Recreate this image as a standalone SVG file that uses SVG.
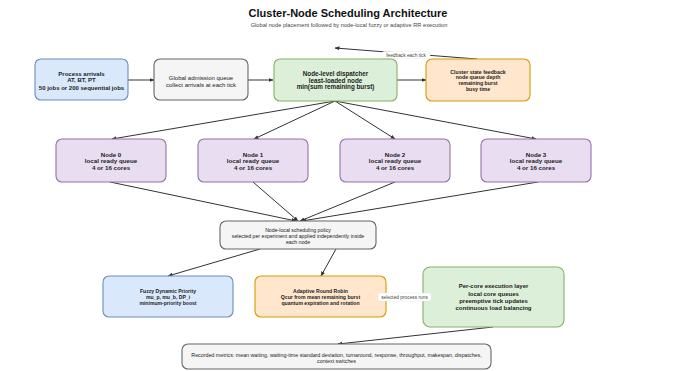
<svg xmlns="http://www.w3.org/2000/svg" width="692" height="371" viewBox="0 0 692 371">
  <defs>
    <marker id="arrow" viewBox="0 0 10 10" refX="9" refY="5" markerWidth="5" markerHeight="5" orient="auto-start-reverse" markerUnits="userSpaceOnUse">
      <path d="M0,1 L10,5 L0,9 Z" fill="#333333"/>
    </marker>
    <style>
      text { font-family: "Liberation Sans", Arial, sans-serif; fill: #222222; text-anchor: middle; }
      .title { font-size: 11px; font-weight: bold; fill: #111111; }
      .sub { font-size: 5.7px; fill: #444444; }
      .box { stroke-width: 1.1; }
      .blue { fill: #dae8fc; stroke: #6c8ebf; }
      .gray { fill: #f5f5f5; stroke: #666666; }
      .green { fill: #dcefd8; stroke: #82b366; }
      .orange { fill: #ffe6cc; stroke: #d79b00; }
      .purple { fill: #e8ddf1; stroke: #9673a6; }
      .b { font-weight: bold; }
      .edge { fill: none; stroke: #333333; stroke-width: 1; marker-end: url(#arrow); }
      .lbl { font-size: 4.8px; fill: #444444; }
      .lblbg { fill: #ffffff; stroke: #e6e6e6; stroke-width: 0.5; }
    </style>
  </defs>

  <rect width="692" height="371" fill="#ffffff"/>

  <text class="title" x="348" y="17">Cluster-Node Scheduling Architecture</text>
  <text class="sub" x="349" y="27">Global node placement followed by node-local fuzzy or adaptive RR execution</text>

  <!-- connectors -->
  <g id="connectors">
    <line class="edge" x1="128" y1="80" x2="154" y2="80"/>
    <line class="edge" x1="248" y1="80" x2="273" y2="80"/>
    <line class="edge" x1="397" y1="80" x2="426" y2="80"/>
    <line class="edge" x1="477" y1="59" x2="335" y2="48"/>

    <line class="edge" x1="335" y1="101" x2="112" y2="139"/>
    <line class="edge" x1="335" y1="101" x2="254" y2="139"/>
    <line class="edge" x1="335" y1="101" x2="395" y2="139"/>
    <line class="edge" x1="335" y1="101" x2="536" y2="139"/>

    <line class="edge" x1="110" y1="182" x2="296" y2="221"/>
    <line class="edge" x1="253" y1="182" x2="298" y2="221"/>
    <line class="edge" x1="395" y1="182" x2="300" y2="221"/>
    <line class="edge" x1="538" y1="182" x2="302" y2="221"/>

    <line class="edge" x1="260" y1="249" x2="168" y2="276"/>
    <line class="edge" x1="336" y1="249" x2="321" y2="276"/>
    <line class="edge" x1="386" y1="297" x2="423" y2="297"/>
    <line class="edge" x1="493" y1="327" x2="338" y2="344"/>

    <rect class="lblbg" x="382" y="51.5" width="48" height="7" rx="2"/>
    <text class="lbl" x="406" y="56.7">feedback each tick</text>
  </g>

  <g id="arrivals">
    <rect class="box blue" x="35" y="59" width="93" height="41" rx="6"/>
    <text class="b" font-size="6" x="81.5" y="76">Process arrivals</text>
    <text class="b" font-size="6" x="81.5" y="82">AT, BT, PT</text>
    <text class="b" font-size="6" x="81.5" y="89.5">50 jobs or 200 sequential jobs</text>
  </g>

  <g id="admission">
    <rect class="box gray" x="154" y="59" width="94" height="41" rx="6"/>
    <text font-size="6" x="201" y="79.5">Global admission queue</text>
    <text font-size="6" x="201" y="86.5">collect arrivals at each tick</text>
  </g>

  <g id="dispatcher">
    <rect class="box green" x="274" y="59" width="123" height="42" rx="6"/>
    <text class="b" font-size="6.3" x="335.5" y="75.5">Node-level dispatcher</text>
    <text class="b" font-size="6.3" x="335.5" y="82.5">least-loaded node</text>
    <text class="b" font-size="6.3" x="335.5" y="89">min(sum remaining burst)</text>
  </g>

  <g id="cluster-feedback">
    <rect class="box orange" x="426" y="59" width="104" height="42" rx="6"/>
    <text class="b" font-size="5.2" x="478" y="73.5">Cluster state feedback</text>
    <text class="b" font-size="5.2" x="478" y="79">node queue depth</text>
    <text class="b" font-size="5.2" x="478" y="85">remaining burst</text>
    <text class="b" font-size="5.2" x="478" y="91">busy time</text>
  </g>

  <g id="node0">
    <rect class="box purple" x="56" y="139" width="110" height="43" rx="6"/>
    <text class="b" font-size="6.2" x="111" y="156.5">Node 0</text>
    <text class="b" font-size="6.2" x="111" y="163">local ready queue</text>
    <text class="b" font-size="6.2" x="111" y="170">4 or 16 cores</text>
  </g>
  <g id="node1">
    <rect class="box purple" x="198" y="139" width="110" height="43" rx="6"/>
    <text class="b" font-size="6.2" x="253" y="156.5">Node 1</text>
    <text class="b" font-size="6.2" x="253" y="163">local ready queue</text>
    <text class="b" font-size="6.2" x="253" y="170">4 or 16 cores</text>
  </g>
  <g id="node2">
    <rect class="box purple" x="340" y="139" width="110" height="43" rx="6"/>
    <text class="b" font-size="6.2" x="395" y="156.5">Node 2</text>
    <text class="b" font-size="6.2" x="395" y="163">local ready queue</text>
    <text class="b" font-size="6.2" x="395" y="170">4 or 16 cores</text>
  </g>
  <g id="node3">
    <rect class="box purple" x="481" y="139" width="110" height="43" rx="6"/>
    <text class="b" font-size="6.2" x="536" y="156.5">Node 3</text>
    <text class="b" font-size="6.2" x="536" y="163">local ready queue</text>
    <text class="b" font-size="6.2" x="536" y="170">4 or 16 cores</text>
  </g>

  <g id="policy">
    <rect class="box gray" x="220" y="221" width="156" height="28" rx="6"/>
    <text font-size="5.2" x="298" y="232">Node-local scheduling policy</text>
    <text font-size="5.2" x="298" y="238">selected per experiment and applied independently inside</text>
    <text font-size="5.2" x="298" y="244">each node</text>
  </g>

  <g id="fuzzy">
    <rect class="box blue" x="103" y="276" width="130" height="41" rx="6"/>
    <text class="b" font-size="5.1" x="168" y="293">Fuzzy Dynamic Priority</text>
    <text class="b" font-size="5.1" x="168" y="299">mu_p, mu_b, DP_i</text>
    <text class="b" font-size="5.1" x="168" y="305">minimum-priority boost</text>
  </g>

  <g id="adaptive-rr">
    <rect class="box orange" x="255" y="276" width="131" height="41" rx="6"/>
    <text class="b" font-size="5.1" x="320.5" y="293">Adaptive Round Robin</text>
    <text class="b" font-size="5.1" x="320.5" y="299">Qcur from mean remaining burst</text>
    <text class="b" font-size="5.1" x="320.5" y="305">quantum expiration and rotation</text>
  </g>

  <g id="per-core">
    <rect class="box green" x="423" y="267" width="141" height="60" rx="7"/>
    <text class="b" font-size="6" x="493.5" y="288">Per-core execution layer</text>
    <text class="b" font-size="6" x="493.5" y="295.5">local core queues</text>
    <text class="b" font-size="6" x="493.5" y="302.5">preemptive tick updates</text>
    <text class="b" font-size="6" x="493.5" y="310">continuous load balancing</text>
  </g>

  <g id="run-label">
    <rect class="lblbg" x="378" y="293" width="53" height="8" rx="2"/>
    <text class="lbl" x="404.5" y="298.8">selected process runs</text>
  </g>

  <g id="metrics">
    <rect class="box gray" x="182" y="344" width="309" height="25" rx="6"/>
    <text font-size="5.3" x="336.5" y="357">Recorded metrics: mean waiting, waiting-time standard deviation, turnaround, response, throughput, makespan, dispatches,</text>
    <text font-size="5.3" x="336.5" y="363">context switches</text>
  </g>
</svg>
